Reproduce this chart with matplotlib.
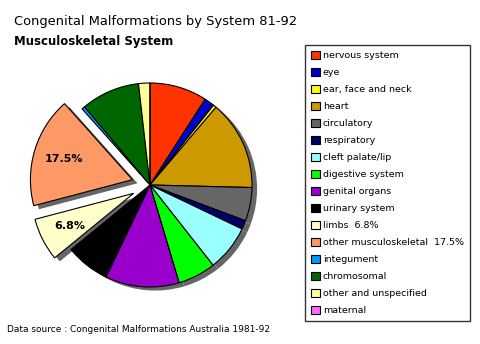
import matplotlib
matplotlib.use("Agg")
import matplotlib.pyplot as plt
import numpy as np

labels = ["nervous system", "eye", "ear, face and neck", "heart", "circulatory",
          "respiratory", "cleft palate/lip", "digestive system", "genital organs",
          "urinary system", "limbs  6.8%", "other musculoskeletal  17.5%",
          "integument", "chromosomal", "other and unspecified", "maternal"]
values = [9.1, 1.6, 0.5, 14.2, 5.3, 1.4, 7.3, 6.0, 11.7, 7.0, 6.8, 17.5, 0.5, 9.3, 1.8, 0.0]
colors = ["#FF3300", "#0000CC", "#FFFF00", "#CC9900", "#666666", "#000066",
          "#99FFFF", "#00FF00", "#9900CC", "#000000", "#FFFFCC", "#FF9966",
          "#0099FF", "#006600", "#FFFF99", "#FF66FF"]
explode = [0, 0, 0, 0, 0, 0, 0, 0, 0, 0, 0.18, 0.18, 0, 0, 0, 0]
pct_labels = {10: "6.8%", 11: "17.5%"}

W, H = 481, 344
fig = plt.figure(figsize=(W / 100, H / 100), dpi=100)
fig.patch.set_facecolor("white")

# pie centre ~ (150, 185) px, radius ~102 px
R = 102
lim = 1.3
ax = fig.add_axes([(150 - lim * R) / W, (H - 185 - lim * R) / H, 2 * lim * R / W, 2 * lim * R / H])

# drop shadow
ax.pie(values, startangle=90, counterclock=False, explode=explode,
       colors=["#666666"] * len(values), center=(0.05, -0.035),
       wedgeprops=dict(linewidth=0))
wedges, _ = ax.pie(values, startangle=90, counterclock=False, explode=explode,
                   colors=colors, wedgeprops=dict(edgecolor="black", linewidth=0.8))
ax.set_xlim(-lim, lim)
ax.set_ylim(-lim, lim)
ax.set_aspect("equal")
ax.axis("off")

total = sum(values)
ang = 90.0
for i, v in enumerate(values):
    mid = ang - v / total * 180
    if i in pct_labels:
        r = 0.70 + explode[i]
        ax.text(r * np.cos(np.radians(mid)), r * np.sin(np.radians(mid)), pct_labels[i],
                ha="center", va="center", fontsize=8, fontweight="bold")
    ang -= v / total * 360

fig.text(14 / W, 1 - 22 / H, "Congenital Malformations by System 81-92",
         fontsize=9.4, va="center", ha="left")
fig.text(14 / W, 1 - 41 / H, "Musculoskeletal System",
         fontsize=8.5, fontweight="bold", va="center", ha="left")
fig.text(7 / W, 1 - 330 / H, "Data source : Congenital Malformations Australia 1981-92",
         fontsize=6.5, va="center", ha="left")

leg = fig.legend(wedges, labels, loc="upper left", bbox_to_anchor=(305 / W, 1 - 45 / H),
                 fontsize=6.8, frameon=True, fancybox=False, handlelength=1.0,
                 handleheight=1.0, handletextpad=0.3, labelspacing=0.80,
                 borderpad=0.6, borderaxespad=0)
leg.get_frame().set_edgecolor("black")
leg.get_frame().set_linewidth(1.0)

fig.savefig("out.png", dpi=100)
